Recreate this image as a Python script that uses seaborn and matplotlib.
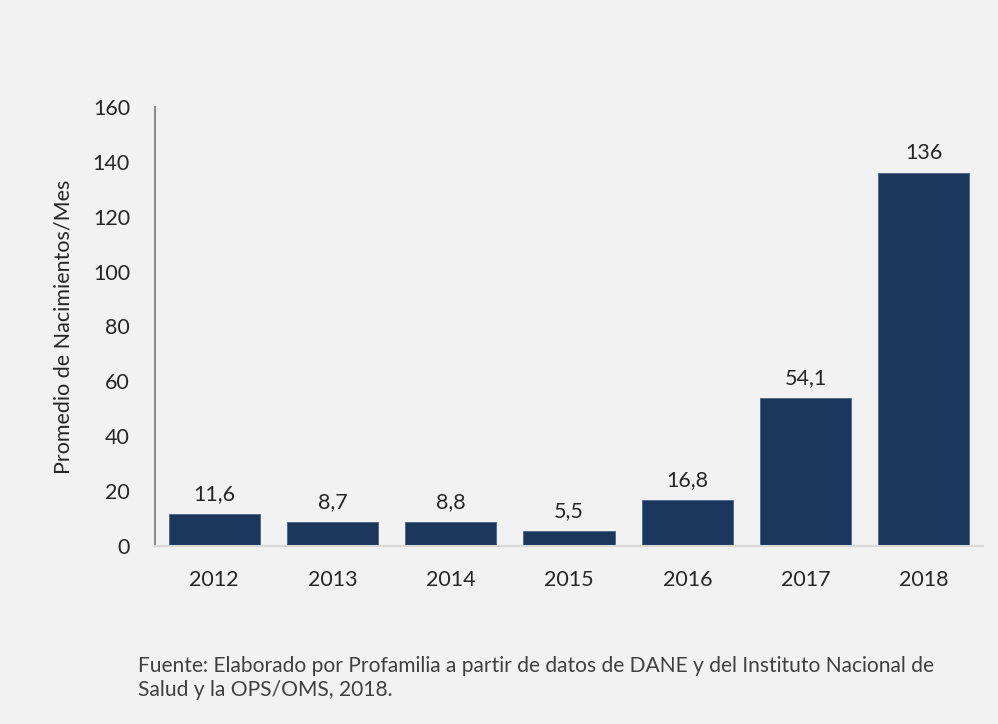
import matplotlib
matplotlib.use("Agg")
import matplotlib.pyplot as plt
import seaborn as sns
import pandas as pd

years = ["2012", "2013", "2014", "2015", "2016", "2017", "2018"]
values = [11.6, 8.7, 8.8, 5.5, 16.8, 54.1, 136]
labels = ["11,6", "8,7", "8,8", "5,5", "16,8", "54,1", "136"]
y_ticks = [0, 20, 40, 60, 80, 100, 120, 140, 160]

sns.set_theme(style="white")
plt.rcParams['font.family'] = ['Lato', 'DejaVu Sans']

bg = "#f2f2f2"
bar_color = "#1b375c"
text_color = "#262626"

fig = plt.figure(figsize=(9.98, 7.24), dpi=100, facecolor=bg)
ax = fig.add_axes([0.1553, 0.2459, 0.8297, 0.6063])
ax.set_facecolor(bg)

df = pd.DataFrame({"year": years, "value": values})
sns.barplot(data=df, x="year", y="value", color=bar_color, saturation=1,
            width=0.77, edgecolor="#4a6285", linewidth=0.6, ax=ax)

ax.set_ylim(0, 160)
ax.set_yticks(y_ticks)
ax.set_yticklabels([str(t) for t in y_ticks], fontsize=15.5, color=text_color)
ax.set_xticks(range(len(years)))
ax.set_xticklabels(years, fontsize=15.5, color=text_color)
ax.set_xlabel("")
ax.set_ylabel("Promedio de Nacimientos/Mes", fontsize=15.5, color=text_color, labelpad=14)
ax.tick_params(axis='x', length=0, pad=17)
ax.tick_params(axis='y', length=0, pad=18)

for s in ["top", "right"]:
    ax.spines[s].set_visible(False)
ax.spines["left"].set_color("#8c8c8c")
ax.spines["left"].set_linewidth(1.5)
ax.spines["bottom"].set_color("#d9d9d9")
ax.spines["bottom"].set_linewidth(1.5)

for i, (v, lab) in enumerate(zip(values, labels)):
    ax.annotate(lab, (i, v), xytext=(0, 7), textcoords="offset points",
                ha="center", va="bottom", fontsize=15.5, color=text_color)

fig.text(0.138, 0.033, "Fuente: Elaborado por Profamilia a partir de datos de DANE y del Instituto Nacional de\nSalud y la OPS/OMS, 2018.",
         fontsize=15.1, color="#404040", ha="left", va="bottom", linespacing=1.25)

fig.savefig("out.png", dpi=100, facecolor=bg)
